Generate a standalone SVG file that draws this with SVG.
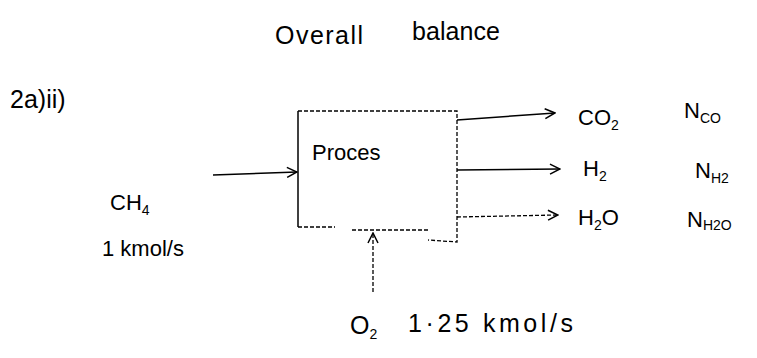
<svg xmlns="http://www.w3.org/2000/svg" width="757" height="358" viewBox="0 0 757 358">
<defs>
<style>
text{font-family:"Liberation Sans","DejaVu Sans",sans-serif;fill:#000;font-size:22px}
text.big{font-size:25px}
.ln{stroke:#000;stroke-width:1.5;fill:none}
.dot{stroke:#000;stroke-width:1.3;fill:none;stroke-dasharray:4 2}
.sub{font-size:14px}
</style>
<marker id="ah" viewBox="0 0 12 12" refX="11" refY="6" markerWidth="12" markerHeight="12" markerUnits="userSpaceOnUse" orient="auto">
<path d="M1,1 L11,6 L1,11" fill="none" stroke="#000" stroke-width="1.5"/>
</marker>
</defs>
<rect width="757" height="358" fill="#fff"/>
<text class="big" x="275" y="44" textLength="88" lengthAdjust="spacing">Overall</text>
<text class="big" x="412" y="40" textLength="88" lengthAdjust="spacing">balance</text>
<text class="big" x="10" y="108">2a)ii)</text>
<g id="process">
<path class="ln" d="M298,111 L298,227" stroke-width="2.2"/>
<path class="dot" d="M298,111 L457,111 L457,242 L428,240"/>
<path class="dot" d="M298,227 L335,227 M352,230 L430,230"/>
<text x="312" y="160">Proces</text>
</g>
<g id="connectors">
<path class="ln" d="M213,175 L297,172" marker-end="url(#ah)"/>
<path class="ln" d="M457,120 L555,113" marker-end="url(#ah)"/>
<path class="ln" d="M457,170 L560,169" marker-end="url(#ah)"/>
<path class="dot" d="M457,217 L558,215" marker-end="url(#ah)"/>
<path class="dot" d="M373,292 L373,233" marker-end="url(#ah)"/>
</g>
<g id="inputs">
<text x="110" y="210">CH<tspan class="sub" dy="5">4</tspan></text>
<text x="102" y="256">1 kmol/s</text>
<text class="big" x="350" y="334">O<tspan class="sub" dy="5">2</tspan></text>
<text class="big" x="408" y="332" textLength="165" lengthAdjust="spacing">1·25 kmol/s</text>
</g>
<g id="outputs">
<text x="578" y="125">CO<tspan class="sub" dy="5">2</tspan></text>
<text x="684" y="118">N<tspan class="sub" dy="5">CO</tspan></text>
<text x="583" y="176">H<tspan class="sub" dy="5">2</tspan></text>
<text x="695" y="178">N<tspan class="sub" dy="5">H2</tspan></text>
<text x="578" y="225">H<tspan class="sub" dy="5">2</tspan><tspan dy="-5">O</tspan></text>
<text x="687" y="227">N<tspan class="sub" dy="3">H2O</tspan></text>
</g>
</svg>
